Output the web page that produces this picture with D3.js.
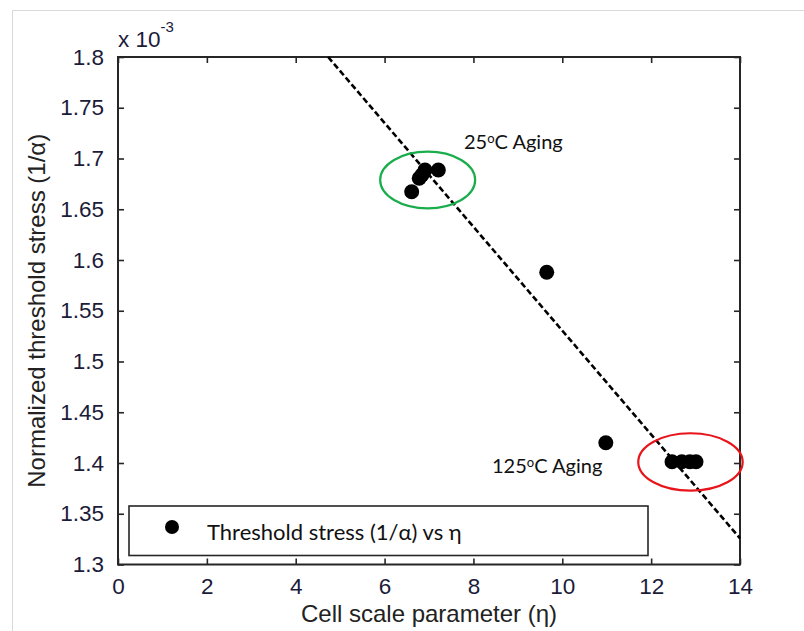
<!DOCTYPE html>
<html>
<head>
<meta charset="utf-8">
<script src="https://cdn.jsdelivr.net/npm/d3@7/dist/d3.min.js"></script>
<style>
  body { margin: 0; background: #fff; }
  svg text { font-family: "Liberation Sans", Arial, sans-serif; }
  .note { font-family: Lato, "Open Sans", sans-serif; }
</style>
</head>
<body>
<div id="chart"></div>
<script>
// Cell scale parameter (eta) vs normalized threshold stress (x 1e-3)
var etaValues    = [6.61, 6.78, 6.84, 6.91, 7.21, 9.65, 10.98, 12.47, 12.69, 12.87, 13.01];
var stressValues = [1.6673, 1.6805, 1.6837, 1.6887, 1.6887, 1.5879, 1.4200, 1.4013, 1.4013, 1.4013, 1.4013];

// dashed linear fit, two end points
var fitEta    = [4.73, 14];
var fitStress = [1.8, 1.3258];

var xTicks = [0, 2, 4, 6, 8, 10, 12, 14];
var yTicks = [1.3, 1.35, 1.4, 1.45, 1.5, 1.55, 1.6, 1.65, 1.7, 1.75, 1.8];

// highlight ellipses: centre eta, centre stress, radius eta, radius stress
var groups = [
    { label: "25", cx: 6.97, cy: 1.6788, rx: 1.069, ry: 0.0279, color: "#1aad4b" },
    { label: "125", cx: 12.885, cy: 1.4010, rx: 1.175, ry: 0.0283, color: "#e8141a" }
];

var width = 804, height = 631;
var margin = { top: 57, right: 64, bottom: 66.5, left: 118 };
var iw = width - margin.left - margin.right;
var ih = height - margin.top - margin.bottom;

var svg = d3.select('#chart').append('svg')
    .attr('width', width).attr('height', height);

// faint screenshot frame
svg.append('path')
    .attr('d', 'M12.5,' + height + 'V10.5H' + width)
    .attr('fill', 'none').attr('stroke', '#d9d9d9').attr('stroke-width', 1);

var g = svg.append('g')
    .attr('transform', 'translate(' + margin.left + ',' + margin.top + ')');

var x = d3.scaleLinear().domain([0, 14]).range([0, iw]);
var y = d3.scaleLinear().domain([1.3, 1.8]).range([ih, 0]);

var axisColor = '#262626', labelColor = '#1b1b3a';

// axes with inward ticks (MATLAB box style)
function styleAxis(sel) {
    sel.select('.domain').remove();
    sel.selectAll('line').attr('stroke', axisColor).attr('stroke-width', 1.6);
    sel.selectAll('text').attr('fill', labelColor).style('font-size', '22.5px');
}
g.append('g').attr('transform', 'translate(0,' + ih + ')')
    .call(d3.axisBottom(x).tickValues(xTicks).tickSizeInner(-6).tickSizeOuter(0).tickPadding(14)
        .tickFormat(d3.format('d')))
    .call(styleAxis);
g.append('g')
    .call(d3.axisTop(x).tickValues(xTicks).tickSizeInner(-6).tickSizeOuter(0).tickFormat(''))
    .call(styleAxis);
g.append('g')
    .call(d3.axisLeft(y).tickValues(yTicks).tickSizeInner(-6).tickSizeOuter(0).tickPadding(14)
        .tickFormat(function (v) { return String(+v.toFixed(2)); }))
    .call(styleAxis);
g.append('g').attr('transform', 'translate(' + iw + ',0)')
    .call(d3.axisRight(y).tickValues(yTicks).tickSizeInner(-6).tickSizeOuter(0).tickFormat(''))
    .call(styleAxis);

g.append('rect')
    .attr('width', iw).attr('height', ih)
    .attr('fill', 'none').attr('stroke', axisColor).attr('stroke-width', 2);

// exponent label
var ex = svg.append('text')
    .attr('x', margin.left).attr('y', 47)
    .attr('fill', labelColor).style('font-size', '22.5px');
ex.append('tspan').text('x 10');
ex.append('tspan').attr('dy', -15).style('font-size', '15px').text('-3');

// fit line
var fit = fitEta.map(function (e, i) { return [e, fitStress[i]]; });
g.append('path')
    .datum(fit)
    .attr('d', d3.line().x(function (d) { return x(d[0]); }).y(function (d) { return y(d[1]); }))
    .attr('fill', 'none').attr('stroke', '#000')
    .attr('stroke-width', 2.6).attr('stroke-dasharray', '6 3');

// data points
g.selectAll('circle.pt')
    .data(etaValues)
    .enter().append('circle')
    .attr('class', 'pt')
    .attr('cx', function (d) { return x(d); })
    .attr('cy', function (d, i) { return y(stressValues[i]); })
    .attr('r', 7.5)
    .attr('fill', '#000');

// group ellipses
g.selectAll('ellipse.grp')
    .data(groups)
    .enter().append('ellipse')
    .attr('class', 'grp')
    .attr('cx', function (d) { return x(d.cx); })
    .attr('cy', function (d) { return y(d.cy); })
    .attr('rx', function (d) { return x(d.rx) - x(0); })
    .attr('ry', function (d) { return y(1.3) - y(1.3 + d.ry); })
    .attr('fill', 'none')
    .attr('stroke', function (d) { return d.color; })
    .attr('stroke-width', 2.2);

// annotations
function agingLabel(px, py, temp) {
    var t = svg.append('text').attr('class', 'note')
        .attr('x', px).attr('y', py)
        .attr('fill', '#111').style('font-size', '20px');
    t.append('tspan').text(temp);
    t.append('tspan').attr('dy', -6).style('font-size', '13px').text('o');
    t.append('tspan').attr('dy', 6).text('C Aging');
}
agingLabel(464, 149, '25');
agingLabel(492, 473, '125');

// legend
svg.append('rect')
    .attr('x', 129).attr('y', 506).attr('width', 519).attr('height', 49.5)
    .attr('fill', '#fff').attr('stroke', axisColor).attr('stroke-width', 1.6);
svg.append('circle')
    .attr('cx', 172).attr('cy', 527).attr('r', 7).attr('fill', '#000');
svg.append('text').attr('class', 'note')
    .attr('x', 207).attr('y', 540)
    .attr('fill', '#111').style('font-size', '22px')
    .text('Threshold stress (1/\u03B1) vs \u03B7');

// axis titles
svg.append('text')
    .attr('x', margin.left + iw / 2).attr('y', 622)
    .attr('text-anchor', 'middle')
    .attr('fill', '#222').style('font-size', '24px')
    .text('Cell scale parameter (\u03B7)');
svg.append('text')
    .attr('transform', 'translate(45,' + (margin.top + ih / 2) + ') rotate(-90)')
    .attr('text-anchor', 'middle')
    .attr('fill', '#222').style('font-size', '24px')
    .text('Normalized threshold stress (1/\u03B1)');
</script>
</body>
</html>
